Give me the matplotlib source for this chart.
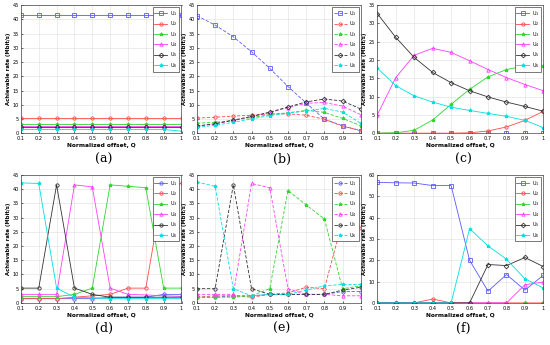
import matplotlib
matplotlib.use('Agg')
import matplotlib.pyplot as plt

# normalized offset Q
q = [0.1, 0.2, 0.3, 0.4, 0.5, 0.6, 0.7, 0.8, 0.9, 1.0]
q_labels = ['0.1', '0.2', '0.3', '0.4', '0.5', '0.6', '0.7', '0.8', '0.9', '1']
users = ['U$_1$', 'U$_2$', 'U$_3$', 'U$_4$', 'U$_5$', 'U$_6$']

# (a)
a_u1 = [41.5] * 10
a_u2 = [5.4] * 10
a_u3 = [3.2] * 10
a_u4 = [2.4] * 10
a_u5 = [2.0] * 10
a_u6 = [1.3, 1.3, 1.3, 1.3, 1.3, 1.3, 1.3, 1.3, 1.3, 0.7]

# (b)
b_u1 = [41.3, 38.0, 33.9, 28.6, 22.8, 16.4, 10.6, 4.9, 2.6, 0.8]
b_u2 = [5.3, 5.6, 6.0, 6.3, 6.8, 6.8, 6.3, 4.9, 2.4, 1.0]
b_u3 = [3.5, 3.8, 4.5, 5.5, 6.5, 7.2, 8.0, 7.3, 5.2, 2.6]
b_u4 = [2.5, 3.3, 4.5, 5.8, 7.2, 9.0, 10.5, 10.8, 9.5, 6.5]
b_u5 = [2.5, 3.3, 4.6, 5.9, 7.4, 9.2, 11.0, 12.0, 11.3, 8.5]
b_u6 = [2.0, 2.8, 3.8, 5.0, 6.2, 7.0, 7.8, 8.7, 7.4, 3.5]

# (c)
c_u1 = [0, 0, 0, 0, 0, 0, 0, 0, 0, 0]
c_u2 = [0, 0, 0, 0, 0, 0.1, 0.6, 1.7, 3.5, 6.0]
c_u3 = [0, 0.1, 0.8, 3.6, 7.9, 12.0, 15.4, 17.4, 18.4, 18.4]
c_u4 = [5.0, 15.2, 21.3, 23.2, 22.1, 19.8, 17.4, 15.2, 13.3, 11.6]
c_u5 = [32.7, 26.2, 20.7, 16.6, 13.8, 11.6, 9.9, 8.5, 7.3, 6.0]
c_u6 = [17.8, 13.0, 10.2, 8.5, 7.1, 6.2, 5.4, 4.6, 3.5, 1.5]

# (d)
d_u1 = [1.5, 1.5, 1.5, 1.5, 1.5, 2.0, 2.0, 2.0, 3.0, 3.0]
d_u2 = [1.5, 1.5, 1.5, 2.0, 2.5, 3.0, 5.2, 5.2, 41.5, 42.0]
d_u3 = [2.2, 2.2, 2.2, 3.0, 5.2, 41.5, 41.0, 40.5, 5.2, 5.2]
d_u4 = [3.0, 3.0, 3.0, 41.5, 40.8, 5.2, 3.0, 2.8, 2.5, 2.3]
d_u5 = [5.2, 5.2, 41.5, 5.2, 3.0, 2.0, 2.0, 2.0, 2.0, 2.0]
d_u6 = [42.2, 42.0, 5.2, 2.0, 1.8, 1.5, 1.5, 1.5, 1.5, 1.5]

# (e)
e_u1 = [2.0, 2.0, 2.5, 2.5, 3.0, 3.0, 3.0, 3.0, 4.0, 4.0]
e_u2 = [2.0, 2.5, 2.5, 2.0, 3.0, 3.5, 5.5, 5.0, 29.0, 26.5]
e_u3 = [2.0, 2.0, 2.0, 2.5, 5.0, 39.5, 34.5, 29.5, 5.0, 6.0]
e_u4 = [3.0, 3.0, 3.0, 42.0, 40.5, 5.0, 3.0, 3.0, 2.5, 2.5]
e_u5 = [5.0, 5.0, 41.5, 5.0, 3.0, 3.0, 3.0, 3.0, 4.5, 5.5]
e_u6 = [42.5, 41.0, 5.0, 2.5, 3.0, 3.0, 4.5, 6.0, 6.5, 6.5]

# (f)
f_u1 = [56.5, 56.3, 56.2, 55.0, 55.0, 20.0, 5.5, 13.3, 6.0, 13.0]
f_u2 = [0, 0, 0, 1.8, 0, 0, 0, 0, 0, 0]
f_u3 = [0, 0, 0, 0, 0, 0, 0, 0, 0, 0]
f_u4 = [0, 0, 0, 0, 0, 0, 0, 0, 8.5, 9.8]
f_u5 = [0, 0, 0, 0, 0, 0, 18.0, 17.5, 21.3, 17.0]
f_u6 = [0, 0, 0, 0, 0, 34.8, 26.7, 20.5, 11.3, 7.0]

colors = ['#5a5aff', '#ff4a4a', '#2ed62e', '#ff3dff', '#333333', '#00e0e0']
mk_sq = ['s', 'o', '*', '^', 'D', '*']
mk_ci = ['o', 'o', '*', '^', 'o', '*']

panels = [
    ('(a)', [a_u1, a_u2, a_u3, a_u4, a_u5, a_u6], '-', mk_sq, 45, 5),
    ('(b)', [b_u1, b_u2, b_u3, b_u4, b_u5, b_u6], '--', mk_sq, 45, 5),
    ('(c)', [c_u1, c_u2, c_u3, c_u4, c_u5, c_u6], '-', mk_sq, 35, 5),
    ('(d)', [d_u1, d_u2, d_u3, d_u4, d_u5, d_u6], '-', mk_ci, 45, 5),
    ('(e)', [e_u1, e_u2, e_u3, e_u4, e_u5, e_u6], '--', mk_ci, 45, 5),
    ('(f)', [f_u1, f_u2, f_u3, f_u4, f_u5, f_u6], '-', mk_sq, 60, 10),
]

lefts = [0.038, 0.358, 0.686]
widths = [0.292, 0.298, 0.302]
bottoms = [0.614, 0.122]
height = 0.371

fig = plt.figure(figsize=(5.5, 3.45), dpi=100)

for i, (tag, series, ls, marks, ymax, ystep) in enumerate(panels):
    row, col = divmod(i, 3)
    ax = fig.add_axes([lefts[col], bottoms[row], widths[col], height])
    for k in range(6):
        filled = marks[k] == '*'
        ax.plot(q, series[k], linestyle=ls, color=colors[k], lw=0.6,
                marker=marks[k], markersize=2.6 if filled else 2.4,
                markerfacecolor=colors[k] if filled else 'none',
                markeredgewidth=0.6, label=users[k],
                dashes=(4, 2) if ls == '--' else (None, None))
    ax.set_xlim(0.1, 1.0)
    ax.set_ylim(0, ymax)
    ax.set_xticks(q)
    ax.set_xticklabels(q_labels)
    ax.set_yticks(range(0, ymax + 1, ystep))
    ax.tick_params(labelsize=3.6, length=1.5, width=0.4, direction='in')
    ax.tick_params(axis='x', pad=2.2)
    ax.tick_params(axis='y', pad=1.5)
    ax.grid(True, color='#dddddd', lw=0.4)
    for s in ax.spines.values():
        s.set_linewidth(0.5)
        s.set_color('#444444')
    ax.set_xlabel('Normalized offset, Q', fontsize=4.2, fontweight='bold', labelpad=1.5)
    ax.set_ylabel('Achievable rate (Mbit/s)', fontsize=3.8, fontweight='bold', labelpad=1)
    leg = ax.legend(loc='upper right', fontsize=3.6, handlelength=2.6, borderpad=0.35,
                    labelspacing=0.3, handletextpad=0.5, fancybox=False, framealpha=1,
                    edgecolor='#444444', borderaxespad=0.4)
    leg.get_frame().set_linewidth(0.5)
    fig.text(lefts[col] + widths[col] / 2 + 0.005, bottoms[row] - 0.075, tag,
             ha='center', va='center', fontsize=9, family='DejaVu Serif')

fig.savefig('out.png', dpi=100)
